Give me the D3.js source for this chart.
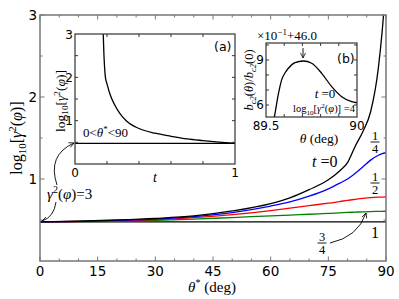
<!DOCTYPE html>
<html><head><meta charset="utf-8">
<script src="https://cdn.jsdelivr.net/npm/d3@7"></script>
<style>body{margin:0;background:#fff} text{fill:#000}</style>
</head><body><svg id="chart" width="399" height="299"></svg>
<script>
// ---- main panel data: log10[gamma^2(phi)] vs theta* for several t
var thetaStar = [0, 10, 20, 30, 40, 50, 60, 65, 70, 75, 78, 80, 82, 84, 86, 88, 89, 90];
var logT0    = [0.477, 0.485, 0.50, 0.52, 0.55, 0.61, 0.70, 0.77, 0.87, 0.99, 1.10, 1.20, 1.40, 1.58, 1.82, 2.35, 2.8, 3.4];
var logT25   = [0.477, 0.483, 0.495, 0.51, 0.54, 0.59, 0.67, 0.72, 0.79, 0.88, 0.95, 1.0, 1.07, 1.15, 1.23, 1.29, 1.31, 1.32];
var logT50   = [0.477, 0.482, 0.49, 0.505, 0.53, 0.565, 0.615, 0.645, 0.675, 0.705, 0.725, 0.74, 0.752, 0.763, 0.772, 0.778, 0.78, 0.781];
var logT75   = [0.477, 0.48, 0.485, 0.495, 0.51, 0.53, 0.55, 0.56, 0.57, 0.58, 0.587, 0.592, 0.596, 0.6, 0.603, 0.605, 0.606, 0.607];
var logT100  = [0.477, 0.477, 0.477, 0.477, 0.477, 0.477, 0.477, 0.477, 0.477, 0.477, 0.477, 0.477, 0.477, 0.477, 0.477, 0.477, 0.477, 0.477];
var seriesColors = ["#000000", "#0000ff", "#ff0000", "#008000", "#000000"];
var xTicksMain = [0, 15, 30, 45, 60, 75, 90];
var yTicksMain = [1, 2, 3];

// ---- inset (a): log10[gamma^2] vs t
var tA    = [0.174, 0.18, 0.19, 0.2, 0.22, 0.25, 0.28, 0.32, 0.4, 0.5, 0.6, 0.7, 0.8, 0.9, 1.0];
var logA  = [3.3, 2.6, 2.0, 1.85, 1.6, 1.35, 1.17, 1.0, 0.82, 0.71, 0.64, 0.58, 0.54, 0.505, 0.477];
var flatA = [0.477, 0.477];
var tFlat = [0, 1];

// ---- inset (b): b_c2(theta)/b_c2(0) (x10^-1 + 46.0) vs theta
var thetaB = [89.535, 89.546, 89.566, 89.586, 89.605, 89.623, 89.659, 89.705, 89.751, 89.806, 89.861, 89.916, 89.971, 90.0];
var ratioB = [4.6, 5.2, 6.6, 7.67, 8.15, 8.45, 8.82, 8.93, 8.78, 8.11, 7.22, 6.55, 6.22, 6.15];

var svg = d3.select("#chart");
var sans = "DejaVu Sans", serif = "Liberation Serif";
svg.append("rect").attr("width", 399).attr("height", 299).attr("fill", "#fff");

var defs = svg.append("defs");
defs.append("marker").attr("id", "arr").attr("viewBox", "0 0 10 10")
  .attr("refX", 9).attr("refY", 5).attr("markerWidth", 7).attr("markerHeight", 7)
  .attr("orient", "auto")
  .append("path").attr("d", "M1,1 L9,5 L1,9").attr("fill", "none").attr("stroke", "#000").attr("stroke-width", 1.2);

// draw inward ticks on all four sides of a box
function boxTicks(g, x, y, xt, yt, len, col) {
  var x0 = x.range()[0], x1 = x.range()[1], y0 = y.range()[0], y1 = y.range()[1];
  xt.forEach(function(v) {
    g.append("line").attr("x1", x(v)).attr("x2", x(v)).attr("y1", y0).attr("y2", y0 - len).attr("stroke", col);
    g.append("line").attr("x1", x(v)).attr("x2", x(v)).attr("y1", y1).attr("y2", y1 + len).attr("stroke", col);
  });
  yt.forEach(function(v) {
    g.append("line").attr("y1", y(v)).attr("y2", y(v)).attr("x1", x0).attr("x2", x0 + len).attr("stroke", col);
    g.append("line").attr("y1", y(v)).attr("y2", y(v)).attr("x1", x1).attr("x2", x1 - len).attr("stroke", col);
  });
}

// ================= main panel
var x = d3.scaleLinear().domain([0, 90]).range([40, 386]);
var y = d3.scaleLinear().domain([0, 3]).range([261, 15]);

defs.append("clipPath").attr("id", "clipMain").append("rect")
  .attr("x", 40).attr("y", 15).attr("width", 346).attr("height", 246);

var line = d3.line().x(function(d) { return x(d[0]); }).y(function(d) { return y(d[1]); })
  .curve(d3.curveMonotoneX);
var mainSeries = [logT100, logT75, logT50, logT25, logT0];
var cols = [seriesColors[4], seriesColors[3], seriesColors[2], seriesColors[1], seriesColors[0]];
mainSeries.forEach(function(s, i) {
  svg.append("path").attr("clip-path", "url(#clipMain)")
    .datum(d3.zip(thetaStar, s)).attr("d", line)
    .attr("fill", "none").attr("stroke", cols[i]).attr("stroke-width", 1.3);
});

var gm = svg.append("g");
boxTicks(gm, x, y, d3.range(0, 91, 5).filter(function(v) { return v % 15 != 0; }), d3.range(0.5, 3, 1), 2.5, "#777");
boxTicks(gm, x, y, xTicksMain, yTicksMain, 4.5, "#777");
gm.append("rect").attr("x", 40).attr("y", 15).attr("width", 346).attr("height", 246)
  .attr("fill", "none").attr("stroke", "#777").attr("stroke-width", 1.5);

xTicksMain.forEach(function(v) {
  svg.append("text").attr("x", x(v)).attr("y", 276).attr("text-anchor", "middle")
    .attr("font-family", sans).attr("font-size", 13.5).text(v);
});
yTicksMain.forEach(function(v) {
  svg.append("text").attr("x", 37).attr("y", y(v) + 5).attr("text-anchor", "end")
    .attr("font-family", sans).attr("font-size", 13.5).text(v);
});

// axis labels
var xl = svg.append("text").attr("x", 212).attr("y", 292).attr("text-anchor", "middle")
  .attr("font-family", serif).attr("font-size", 15);
xl.append("tspan").attr("font-style", "italic").text("θ");
xl.append("tspan").attr("font-size", 10).attr("dy", -6).text("*");
xl.append("tspan").attr("dy", 6).text(" (deg)");

function logLabel(g, size) {
  g.append("tspan").text("log");
  g.append("tspan").attr("font-size", size * 0.68).attr("dy", size * 0.25).text("10");
  g.append("tspan").attr("dy", -size * 0.25).text("[");
  g.append("tspan").attr("font-style", "italic").text("γ");
  g.append("tspan").attr("font-size", size * 0.68).attr("dy", -size * 0.4).text("2");
  g.append("tspan").attr("dy", size * 0.4).text("(");
  g.append("tspan").attr("font-style", "italic").text("φ");
  g.append("tspan").text(")]");
}
var yl = svg.append("text").attr("transform", "translate(22,138) rotate(-90)")
  .attr("text-anchor", "middle").attr("font-family", serif).attr("font-size", 16);
logLabel(yl, 16);

// curve labels
var t0 = svg.append("text").attr("x", 312).attr("y", 167).attr("font-family", serif).attr("font-size", 16);
t0.append("tspan").attr("font-style", "italic").text("t");
t0.append("tspan").text(" =0");

function frac(cx, cy, num, den) {
  svg.append("text").attr("x", cx).attr("y", cy - 2.5).attr("text-anchor", "middle")
    .attr("font-family", serif).attr("font-size", 12.5).text(num);
  svg.append("line").attr("x1", cx - 4.5).attr("x2", cx + 4.5).attr("y1", cy).attr("y2", cy)
    .attr("stroke", "#000").attr("stroke-width", 0.9);
  svg.append("text").attr("x", cx).attr("y", cy + 11).attr("text-anchor", "middle")
    .attr("font-family", serif).attr("font-size", 12.5).text(den);
}
frac(375, 142, "1", "4");
frac(375, 183, "1", "2");
frac(322, 243, "3", "4");
svg.append("text").attr("x", 375).attr("y", 238).attr("text-anchor", "middle")
  .attr("font-family", serif).attr("font-size", 16).text("1");

svg.append("path").attr("d", "M330,243 Q358,237 366,213")
  .attr("fill", "none").attr("stroke", "#000").attr("stroke-width", 0.9).attr("marker-end", "url(#arr)");

// gamma^2 = 3 label and arrows
var gl = svg.append("text").attr("x", 47).attr("y", 199).attr("font-family", serif).attr("font-size", 15);
gl.append("tspan").attr("font-style", "italic").text("γ");
gl.append("tspan").attr("font-size", 10).attr("dy", -6).text("2");
gl.append("tspan").attr("dy", 6).text("(");
gl.append("tspan").attr("font-style", "italic").text("φ");
gl.append("tspan").text(")=3");
svg.append("path").attr("d", "M57,185 Q47,155 74,143")
  .attr("fill", "none").attr("stroke", "#000").attr("stroke-width", 0.9).attr("marker-end", "url(#arr)");
svg.append("path").attr("d", "M56,202 Q54,217 42,221")
  .attr("fill", "none").attr("stroke", "#000").attr("stroke-width", 0.9).attr("marker-end", "url(#arr)");

// ================= inset (a)
var xa = d3.scaleLinear().domain([0, 1]).range([75, 235]);
var ya = d3.scaleLinear().domain([0, 3]).range([164, 34]);
svg.append("rect").attr("x", 75).attr("y", 34).attr("width", 160).attr("height", 130).attr("fill", "#fff");
defs.append("clipPath").attr("id", "clipA").append("rect")
  .attr("x", 75).attr("y", 34).attr("width", 160).attr("height", 130);
var lineA = d3.line().x(function(d) { return xa(d[0]); }).y(function(d) { return ya(d[1]); })
  .curve(d3.curveMonotoneX);
svg.append("path").attr("clip-path", "url(#clipA)").datum(d3.zip(tA, logA)).attr("d", lineA)
  .attr("fill", "none").attr("stroke", "#000").attr("stroke-width", 1.3);
svg.append("path").datum(d3.zip(tFlat, flatA)).attr("d", lineA)
  .attr("fill", "none").attr("stroke", "#000").attr("stroke-width", 1.3);
var ga = svg.append("g");
boxTicks(ga, xa, ya, [0.2, 0.4, 0.6, 0.8], [0.5, 1, 1.5, 2, 2.5], 3, "#333");
ga.append("rect").attr("x", 75).attr("y", 34).attr("width", 160).attr("height", 130)
  .attr("fill", "none").attr("stroke", "#333").attr("stroke-width", 1.2);
[1, 2, 3].forEach(function(v) {
  svg.append("text").attr("x", 73).attr("y", ya(v) + 4.5).attr("text-anchor", "end")
    .attr("font-family", sans).attr("font-size", 12).text(v);
});
[0, 1].forEach(function(v) {
  svg.append("text").attr("x", xa(v)).attr("y", 177).attr("text-anchor", "middle")
    .attr("font-family", sans).attr("font-size", 12).text(v);
});
svg.append("text").attr("x", 155).attr("y", 182).attr("text-anchor", "middle")
  .attr("font-family", serif).attr("font-style", "italic").attr("font-size", 14).text("t");
var yla = svg.append("text").attr("transform", "translate(65,101) rotate(-90)")
  .attr("text-anchor", "middle").attr("font-family", serif).attr("font-size", 13.5);
logLabel(yla, 13.5);
svg.append("text").attr("x", 214).attr("y", 51).attr("font-family", sans).attr("font-size", 12.5).text("(a)");
var ra = svg.append("text").attr("x", 83).attr("y", 137).attr("font-family", serif).attr("font-size", 13);
ra.append("tspan").text("0<");
ra.append("tspan").attr("font-style", "italic").text("θ");
ra.append("tspan").attr("font-size", 9).attr("dy", -5).text("*");
ra.append("tspan").attr("dy", 5).text("<90");

// ================= inset (b)
var xb = d3.scaleLinear().domain([89.5, 90]).range([266, 357]);
var yb = d3.scaleLinear().domain([5.2, 10.13]).range([117, 43]);
svg.append("rect").attr("x", 266).attr("y", 43).attr("width", 91).attr("height", 74).attr("fill", "#fff");
defs.append("clipPath").attr("id", "clipB").append("rect")
  .attr("x", 266).attr("y", 43).attr("width", 91).attr("height", 74);
var lineB = d3.line().x(function(d) { return xb(d[0]); }).y(function(d) { return yb(d[1]); })
  .curve(d3.curveMonotoneX);
svg.append("path").attr("clip-path", "url(#clipB)").datum(d3.zip(thetaB, ratioB)).attr("d", lineB)
  .attr("fill", "none").attr("stroke", "#000").attr("stroke-width", 1.3);
var gb = svg.append("g");
boxTicks(gb, xb, yb, [89.6, 89.7, 89.8, 89.9], [6, 7, 8, 9, 10], 3, "#333");
gb.append("rect").attr("x", 266).attr("y", 43).attr("width", 91).attr("height", 74)
  .attr("fill", "none").attr("stroke", "#333").attr("stroke-width", 1.2);
[6, 9].forEach(function(v) {
  svg.append("text").attr("x", 264).attr("y", yb(v) + 4.5).attr("text-anchor", "end")
    .attr("font-family", sans).attr("font-size", 12).text(v);
});
[89.5, 90].forEach(function(v) {
  svg.append("text").attr("x", xb(v)).attr("y", 130).attr("text-anchor", "middle")
    .attr("font-family", sans).attr("font-size", 12).text(v);
});
var xlb = svg.append("text").attr("x", 319).attr("y", 143).attr("text-anchor", "middle")
  .attr("font-family", serif).attr("font-size", 13.5);
xlb.append("tspan").attr("font-style", "italic").text("θ");
xlb.append("tspan").text(" (deg)");
var ylb = svg.append("text").attr("transform", "translate(253,80) rotate(-90)")
  .attr("text-anchor", "middle").attr("font-family", serif).attr("font-size", 12.5);
ylb.append("tspan").attr("font-style", "italic").text("b");
ylb.append("tspan").attr("font-size", 8.5).attr("dy", 3).attr("font-style", "italic").text("c2");
ylb.append("tspan").attr("dy", -3).text("(");
ylb.append("tspan").attr("font-style", "italic").text("θ");
ylb.append("tspan").text(")/");
ylb.append("tspan").attr("font-style", "italic").text("b");
ylb.append("tspan").attr("font-size", 8.5).attr("dy", 3).attr("font-style", "italic").text("c2");
ylb.append("tspan").attr("dy", -3).text("(0)");
var ofs = svg.append("text").attr("x", 257).attr("y", 40).attr("font-family", serif).attr("font-size", 13);
ofs.append("tspan").text("×10");
ofs.append("tspan").attr("font-size", 9).attr("dy", -5).text("−1");
ofs.append("tspan").attr("dy", 5).text("+46.0");
svg.append("text").attr("x", 337).attr("y", 63).attr("font-family", sans).attr("font-size", 12.5).text("(b)");
svg.append("path").attr("d", "M303,48 L303,58")
  .attr("fill", "none").attr("stroke", "#000").attr("stroke-width", 0.9).attr("marker-end", "url(#arr)");
var tb = svg.append("text").attr("x", 325).attr("y", 98).attr("text-anchor", "middle")
  .attr("font-family", serif).attr("font-size", 13);
tb.append("tspan").attr("font-style", "italic").text("t");
tb.append("tspan").text(" =0");
var lb = svg.append("text").attr("x", 324).attr("y", 112).attr("text-anchor", "middle")
  .attr("font-family", serif).attr("font-size", 10.5);
logLabel(lb, 10.5);
lb.append("tspan").text(" =4");
</script></body></html>
